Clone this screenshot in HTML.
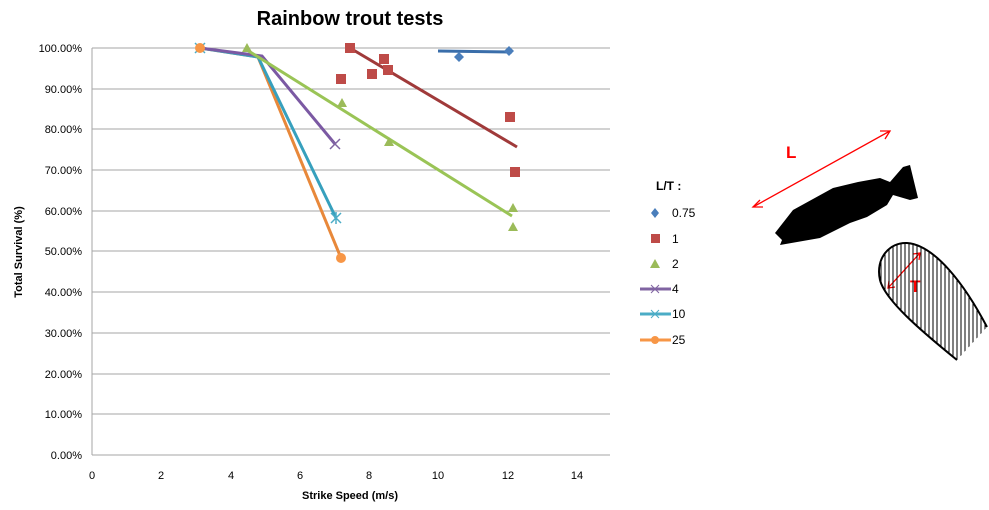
<!DOCTYPE html>
<html><head><meta charset="utf-8"><style>
body{margin:0;background:#fff;}
svg text{font-family:"Liberation Sans",sans-serif;}
</style></head><body>
<svg width="989" height="505" viewBox="0 0 989 505" xmlns="http://www.w3.org/2000/svg">
<defs>
<pattern id="hatch" width="4" height="4" patternUnits="userSpaceOnUse"><line x1="1" y1="0" x2="1" y2="4" stroke="#000" stroke-width="1"/></pattern>
</defs>
<text x="350" y="25" font-size="20" font-weight="bold" text-anchor="middle">Rainbow trout tests</text>
<g stroke="#a6a6a6" stroke-width="1">
<line x1="92" y1="48" x2="610" y2="48"/><line x1="92" y1="89" x2="610" y2="89"/><line x1="92" y1="129" x2="610" y2="129"/><line x1="92" y1="170" x2="610" y2="170"/><line x1="92" y1="211" x2="610" y2="211"/><line x1="92" y1="251" x2="610" y2="251"/><line x1="92" y1="292" x2="610" y2="292"/><line x1="92" y1="333" x2="610" y2="333"/><line x1="92" y1="374" x2="610" y2="374"/><line x1="92" y1="414" x2="610" y2="414"/><line x1="92" y1="455" x2="610" y2="455"/>
<line x1="92" y1="48" x2="92" y2="455"/>
</g>
<g font-size="11" text-anchor="end" fill="#000">
<text x="82" y="52">100.00%</text><text x="82" y="93">90.00%</text><text x="82" y="133">80.00%</text><text x="82" y="174">70.00%</text><text x="82" y="215">60.00%</text><text x="82" y="255">50.00%</text><text x="82" y="296">40.00%</text><text x="82" y="337">30.00%</text><text x="82" y="378">20.00%</text><text x="82" y="418">10.00%</text><text x="82" y="459">0.00%</text>
</g>
<g font-size="11" text-anchor="middle">
<text x="92" y="479">0</text><text x="161" y="479">2</text><text x="231" y="479">4</text><text x="300" y="479">6</text><text x="369" y="479">8</text><text x="438" y="479">10</text><text x="508" y="479">12</text><text x="577" y="479">14</text>
</g>
<text x="350" y="499" font-size="11" font-weight="bold" text-anchor="middle">Strike Speed (m/s)</text>
<text transform="translate(22,252) rotate(-90)" font-size="11" font-weight="bold" text-anchor="middle">Total Survival (%)</text>
<!-- series lines -->
<polyline points="200,48 258,57 341,258" fill="none" stroke="#e8883a" stroke-width="3"/>
<polyline points="200,48 258,57 336,218" fill="none" stroke="#37a0bd" stroke-width="3"/>
<polyline points="200,48 262,56 335,144" fill="none" stroke="#7b59a3" stroke-width="3"/>
<line x1="247" y1="50" x2="512" y2="216" stroke="#9ac456" stroke-width="3"/>
<line x1="350" y1="48" x2="517" y2="147" stroke="#a03a3a" stroke-width="3"/>
<line x1="438" y1="51" x2="512" y2="52" stroke="#3a6eaa" stroke-width="3"/>
<!-- markers -->
<g fill="#4a7ebb"><path d="M459,52 l5,5 l-5,5 l-5,-5z"/><path d="M509,46 l5,5 l-5,5 l-5,-5z"/></g>
<g fill="#be4b48">
<rect x="336" y="74" width="10" height="10"/><rect x="345" y="43" width="10" height="10"/><rect x="379" y="54" width="10" height="10"/><rect x="367" y="69" width="10" height="10"/><rect x="383" y="65" width="10" height="10"/><rect x="505" y="112" width="10" height="10"/><rect x="510" y="167" width="10" height="10"/>
</g>
<g fill="#9bbb59">
<path d="M247,43 l5,9 h-10z"/><path d="M342,98 l5,9 h-10z"/><path d="M389,137 l5,9 h-10z"/><path d="M513,203 l5,9 h-10z"/><path d="M513,222 l5,9 h-10z"/>
</g>
<g stroke="#8064a2" stroke-width="1.5"><path d="M330,139 l10,10 M340,139 l-10,10"/></g>
<g stroke="#4bacc6" stroke-width="1.5"><path d="M331,213 l10,10 M341,213 l-10,10 M336,212 v12"/><path d="M195,43 l10,10 M205,43 l-10,10"/></g>
<g fill="#f79646"><circle cx="200" cy="48" r="5"/><circle cx="341" cy="258" r="5"/></g>
<!-- legend -->
<text x="656" y="190" font-size="12" font-weight="bold">L/T :</text>
<g font-size="12">
<path d="M655,208 l4,5 l-4,5 l-4,-5z" fill="#4a7ebb"/><text x="672" y="217">0.75</text>
<rect x="651" y="234" width="9" height="9" fill="#be4b48"/><text x="672" y="243">1</text>
<path d="M655,259 l5,9 h-10z" fill="#9bbb59"/><text x="672" y="268">2</text>
<line x1="640" y1="289" x2="671" y2="289" stroke="#8064a2" stroke-width="3"/><path d="M651,285 l8,8 M659,285 l-8,8" stroke="#8064a2"/><text x="672" y="293">4</text>
<line x1="640" y1="314" x2="671" y2="314" stroke="#4bacc6" stroke-width="3"/><path d="M651,310 l8,8 M659,310 l-8,8" stroke="#4bacc6"/><text x="672" y="318">10</text>
<line x1="640" y1="340" x2="671" y2="340" stroke="#f79646" stroke-width="3"/><circle cx="655" cy="340" r="4" fill="#f79646"/><text x="672" y="344">25</text>
</g>
<!-- fish -->
<path d="M775,233 L793,210 L833,188 L858,182 L880,178 L890,182 L903,167 L910,165 L918,198 L910,200 L893,195 L887,205 L867,217 L850,223 L820,238 L780,245 L782,240 Z" fill="#000"/>
<g stroke="#f00" stroke-width="1.3" fill="none">
<line x1="753" y1="207" x2="890" y2="131"/><path d="M760,200 l-7,7 l10,0"/><path d="M880,131 l10,0 l-5,8"/>
<line x1="888" y1="288" x2="920" y2="253"/><path d="M889,281 l-1,7 l7,-1"/><path d="M913,254 l7,-1 l-1,7"/>
</g>
<text x="786" y="158" font-size="17" font-weight="bold" fill="#f00">L</text>
<text x="910" y="292" font-size="17" font-weight="bold" fill="#f00">T</text>
<!-- blade -->
<path d="M957,360 C920,330 885,300 880,280 C875,258 890,242 907,243 C935,245 965,285 987,327" fill="url(#hatch)" stroke="#000" stroke-width="2"/>
</svg>
</body></html>
